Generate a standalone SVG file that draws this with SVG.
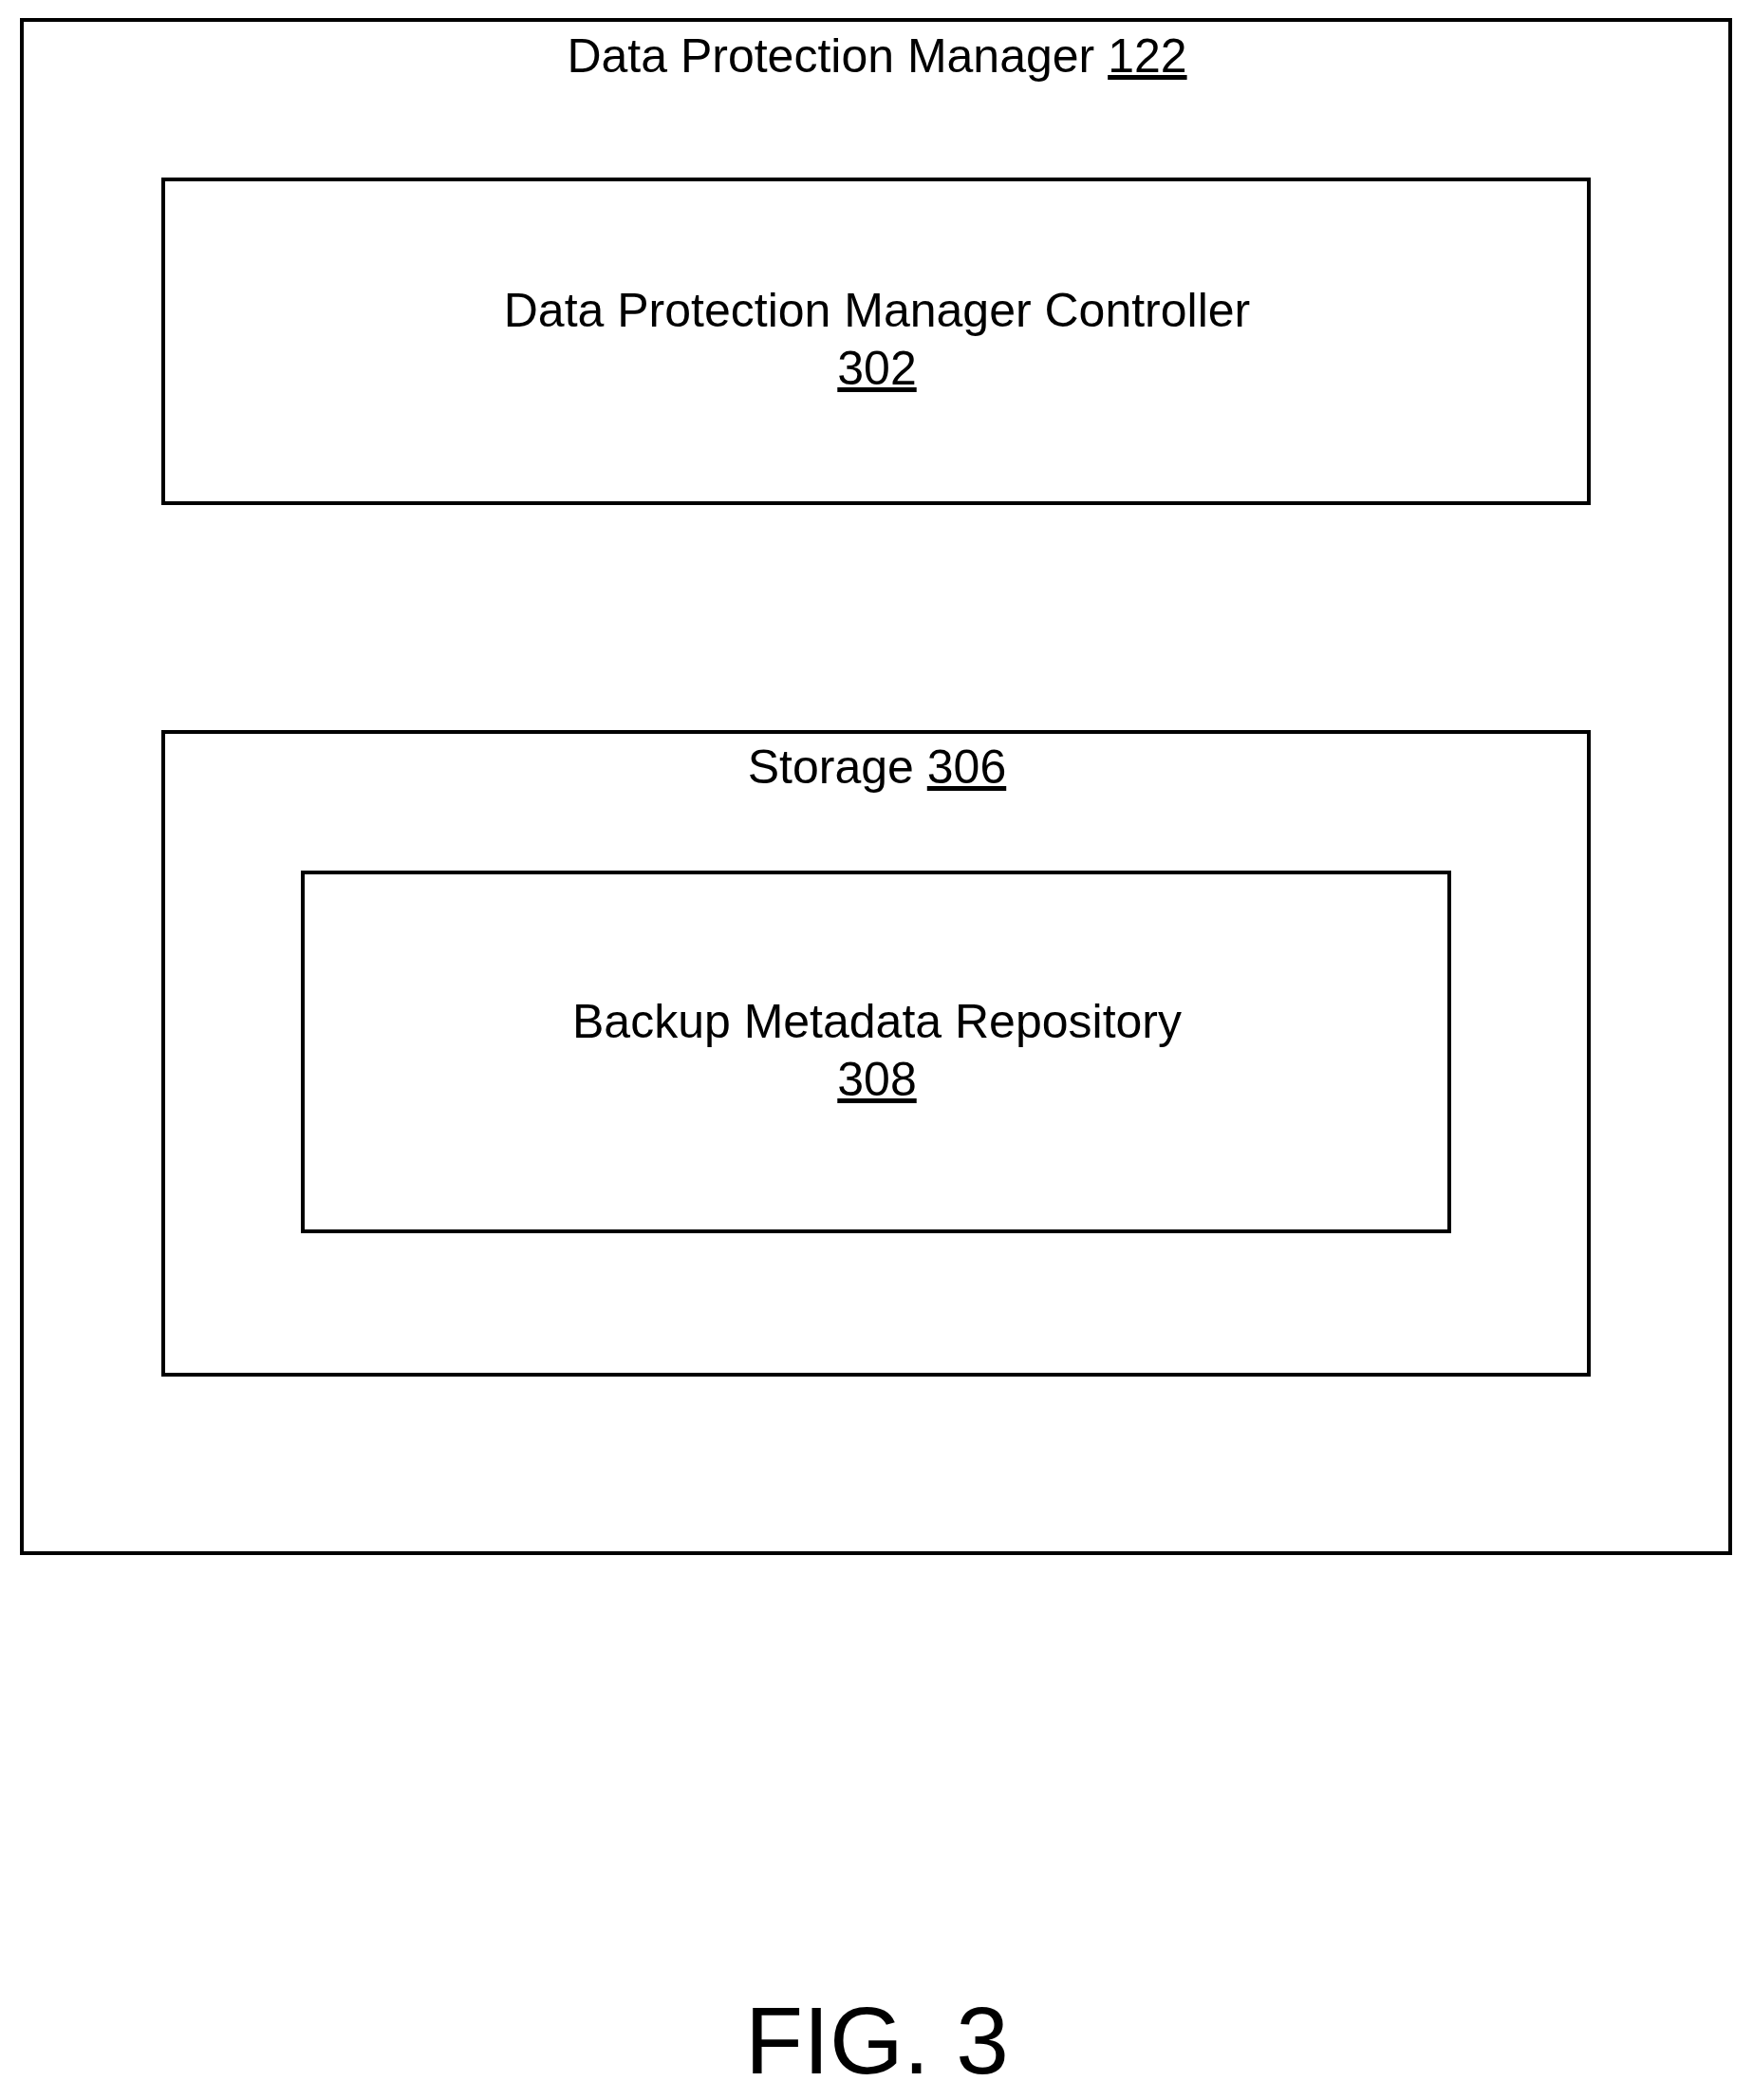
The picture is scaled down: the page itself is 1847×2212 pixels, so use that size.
<svg xmlns="http://www.w3.org/2000/svg" width="1847" height="2212" viewBox="0 0 1847 2212">
<style>
rect{fill:none;stroke:#000;stroke-width:4}
text{font-family:"Liberation Sans",Arial,sans-serif;font-size:50px;text-anchor:middle;fill:#000}
.u{text-decoration:underline}
</style>
<rect width="1847" height="2212" style="fill:#fff;stroke:none"/>
<g id="dpm"><rect x="23" y="21" width="1800" height="1615"/>
<text x="924" y="76">Data Protection Manager <tspan class="u">122</tspan></text></g>
<g id="controller"><rect x="172" y="189" width="1502" height="341"/>
<text x="924" y="344">Data Protection Manager Controller</text>
<text x="924" y="405" class="u">302</text></g>
<g id="storage"><rect x="172" y="771" width="1502" height="677"/>
<text x="924" y="825">Storage <tspan class="u">306</tspan></text></g>
<g id="repo"><rect x="319" y="919" width="1208" height="378"/>
<text x="924" y="1093">Backup Metadata Repository</text>
<text x="924" y="1154" class="u">308</text></g>
<g id="connectors"/>
<text x="924" y="2184" style="font-size:100px">FIG. 3</text>
</svg>
